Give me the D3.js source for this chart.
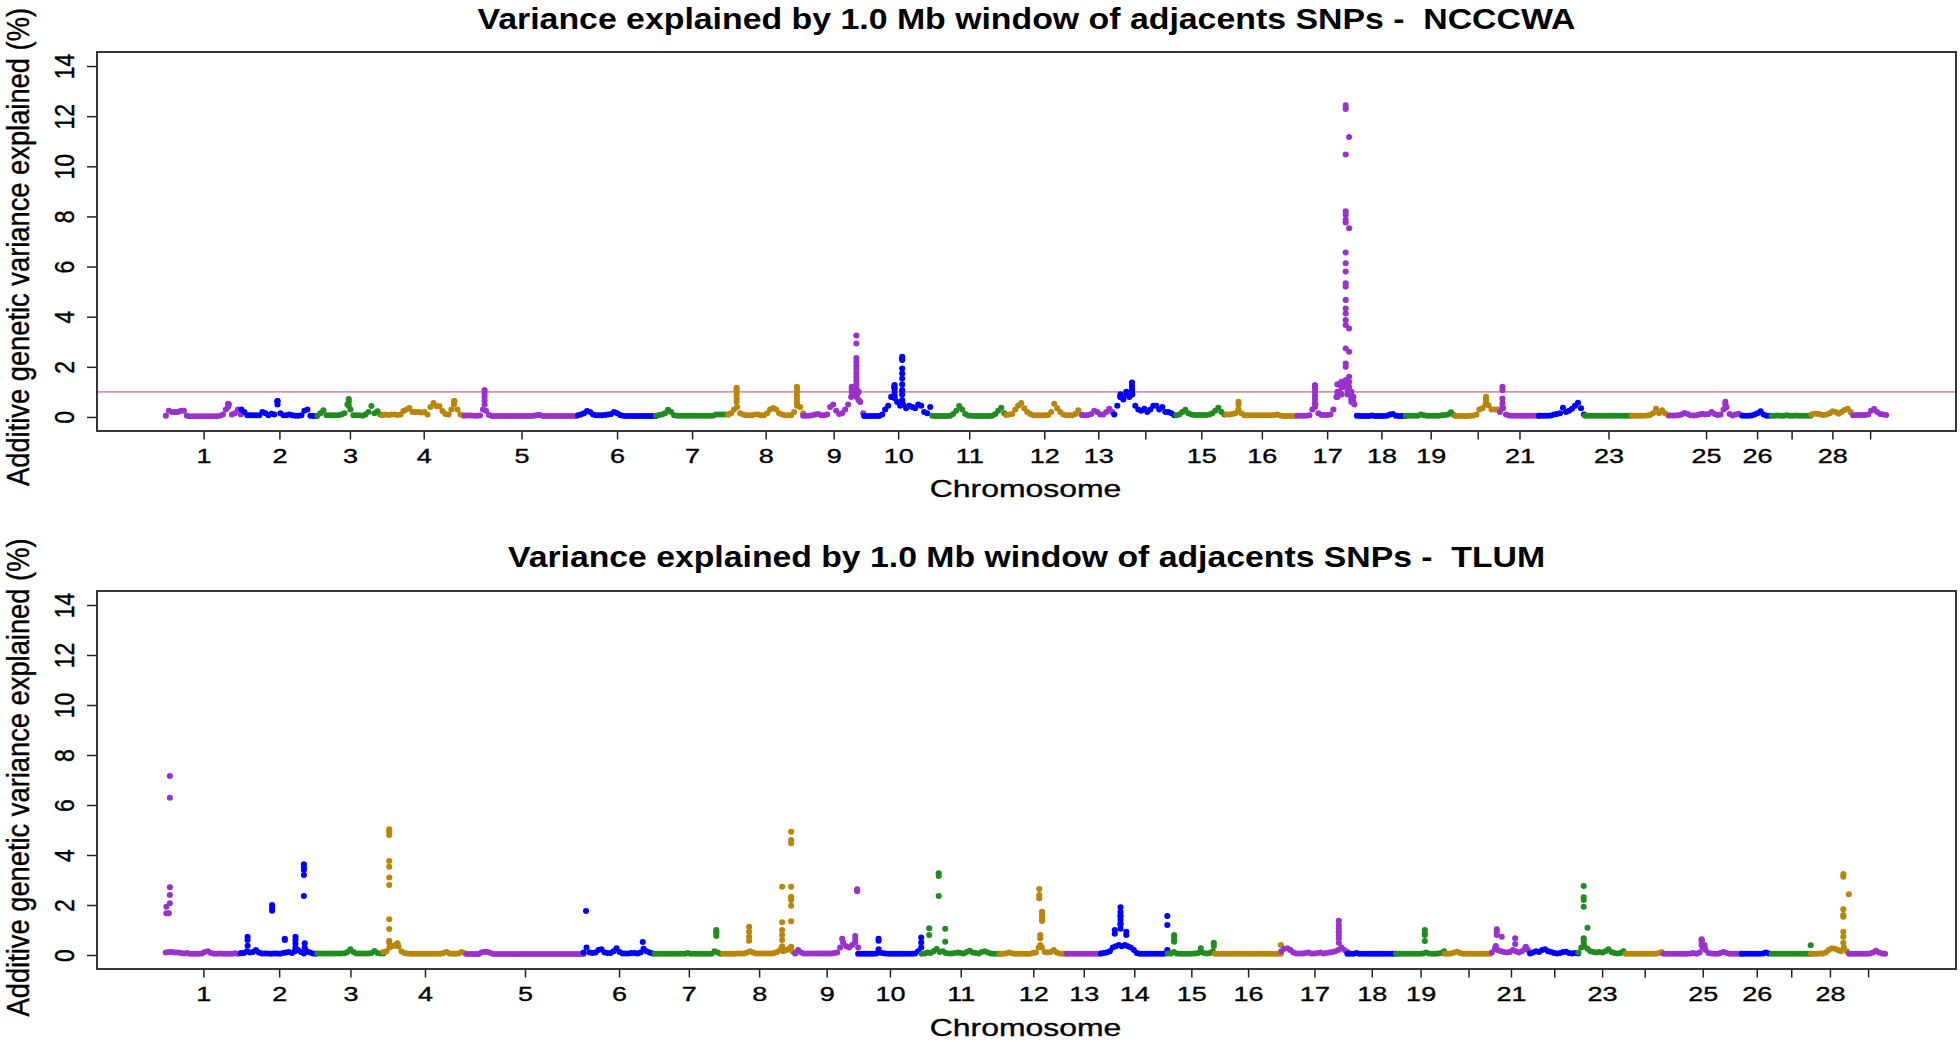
<!DOCTYPE html>
<html><head><meta charset="utf-8">
<script src="https://cdn.jsdelivr.net/npm/d3@7"></script>
<style>
html,body{margin:0;padding:0;background:#fff;}
svg{display:block;}
text{font-family:"Liberation Sans",Arial,Helvetica,sans-serif;fill:#000;}
.heavy{stroke:#000;stroke-width:0.35px;}
</style>
</head><body>
<svg id="chart" width="1960" height="1042"></svg>
<script>
// ---------------- DATA ----------------
const chromNames = ["1","2","3","4","5","6","7","8","9","10","11","12","13","14","15","16","17","18","19","20","21","22","23","24","25","26","27","28","29"];
const chromColors = ["#9932CC","#0000FF","#228B22","#B8860B"];
const windowStep = 3; // Mb between consecutive 1.0 Mb windows in the baseline series

// chromosome extents (Mb) as plotted in each panel
const chromLenNCCCWA = [75.5,76,65,82.5,113,78,72,75,61,68,74,76,32,62,50,71,59.5,49,49.5,44.5,39,46,47,37.5,73,29,40,41.5,34];
const chromLenTLUM   = [75,76.5,66,83,117,71,68.5,72,63,63.5,78,67,34,67,47,66.5,66,48.7,49,46.7,38.2,48.3,47.4,37.7,78.3,29.8,39.1,38.2,38.1];

// % additive genetic variance per window, consecutive windows along each chromosome
const baseNCCCWA = [
 [.05,.25,.2,.2,.2,.25,.25,.05,.03,.03,.03,.03,.03,.03,.03,.03,.03,.03,.05,.1,.3,.5,.1,.15,.3,.1],
 [.3,.2,.07,.07,.07,.07,.07,.2,.15,.07,.13,.1,.63,.15,.07,.07,.1,.07,.05,.05,.07,.25,.3,.05,.04,.04],
 [.05,.15,.27,.07,.07,.07,.07,.07,.1,.15,.5,.3,.07,.07,.07,.05,.1,.2,.44,.15,.23,.1],
 [.07,.1,.08,.1,.1,.08,.1,.24,.3,.36,.2,.2,.2,.18,.2,.1,.4,.56,.43,.43,.24,.12,.1,.3,.63,.3,.1,.05],
 [.06,.06,.06,.05,.05,.06,.3,.25,.08,.04,.04,.04,.04,.04,.04,.04,.04,.04,.04,.04,.04,.04,.04,.05,.08,.08,.04,.04,.04,.04,.04,.04,.04,.04,.04,.04,.04,.04],
 [.07,.1,.15,.24,.2,.1,.07,.07,.07,.08,.1,.12,.2,.15,.08,.05,.04,.04,.04,.04,.04,.04,.04,.04,.04,.04,.04],
 [.05,.08,.1,.15,.29,.2,.07,.05,.05,.05,.05,.05,.05,.05,.05,.05,.05,.05,.05,.05,.1,.1,.1,.1,.1],
 [.1,.15,.3,.4,.15,.1,.07,.07,.07,.1,.1,.07,.07,.15,.3,.36,.3,.15,.1,.07,.07,.07,.2,.45,.4,.15],
 [.05,.05,.05,.07,.1,.12,.07,.07,.1,.4,.5,.25,.12,.15,.3,.5,.8,.9,.9,.6,.15],
 [.04,.04,.04,.04,.04,.04,.1,.3,.45,.8,1.2,.6,.45,.5,.35,.45,.4,.35,.5,.45,.2,.15,.4],
 [.05,.04,.04,.04,.04,.04,.05,.12,.25,.44,.3,.12,.06,.05,.04,.04,.04,.04,.04,.04,.05,.12,.25,.37,.15],
 [.08,.1,.12,.3,.45,.56,.35,.2,.12,.07,.07,.07,.07,.07,.08,.2,.53,.35,.2,.1,.07,.07,.07,.12,.27,.1],
 [.07,.07,.08,.12,.25,.2,.1,.1,.2,.33,.2],
 [.1,.45,.8,.7,.9,.8,.9,.45,.3,.25,.33,.2,.3,.45,.45,.3,.4,.2,.2,.15,.07],
 [.07,.1,.2,.29,.15,.1,.08,.08,.08,.08,.08,.1,.15,.25,.37,.2,.1],
 [.1,.1,.12,.15,.3,.15,.07,.07,.07,.07,.07,.07,.07,.07,.07,.07,.08,.1,.06,.04,.04,.04,.04,.04],
 [.05,.05,.05,.05,.07,.3,.5,.15,.08,.08,.08,.1,.3,.8,1.0,1.2,1.3,1.1,.7,.5],
 [.05,.04,.04,.04,.04,.06,.04,.04,.04,.04,.05,.1,.12,.05,.04,.04,.04],
 [.05,.05,.05,.05,.05,.1,.07,.05,.05,.05,.05,.05,.07,.08,.1,.19,.08],
 [.04,.04,.04,.04,.04,.05,.06,.1,.3,.35,.5,.47,.3,.3,.3],
 [.2,.35,.1,.06,.05,.05,.05,.05,.05,.05,.05,.05,.05,.05],
 [.05,.05,.05,.05,.06,.1,.12,.15,.37,.2,.25,.33,.45,.57,.35,.1],
 [.05,.05,.05,.05,.05,.05,.05,.05,.05,.05,.05,.05,.05,.05,.05,.05],
 [.05,.05,.05,.05,.05,.06,.08,.15,.33,.15,.27,.15,.06],
 [.06,.06,.06,.07,.1,.16,.12,.07,.06,.07,.1,.13,.1,.12,.2,.12,.08,.1,.3,.4,.12,.06,.1,.13,.07],
 [.05,.05,.05,.06,.1,.15,.23,.1,.05,.05],
 [.05,.05,.06,.05,.05,.07,.05,.05,.06,.05,.05,.05,.05,.05],
 [.1,.13,.13,.1,.08,.1,.15,.23,.2,.13,.2,.28,.33,.2],
 [.07,.08,.08,.08,.08,.1,.25,.32,.2,.12,.1,.08]
];
const baseTLUM = [
 [.1,.12,.12,.1,.1,.08,.06,.08,.05,.05,.05,.05,.06,.12,.15,.08,.05,.05,.06,.05,.05,.05,.05,.07,.05,.08],
 [.07,.08,.15,.1,.12,.2,.1,.06,.06,.06,.05,.06,.06,.05,.08,.1,.12,.08,.15,.2,.12,.06,.15,.1,.06,.05],
 [.06,.06,.06,.06,.06,.06,.06,.06,.06,.07,.12,.23,.12,.06,.06,.06,.06,.06,.08,.16,.08,.06,.06],
 [.12,.15,.3,.35,.4,.35,.15,.08,.06,.05,.05,.05,.05,.05,.05,.05,.05,.05,.05,.05,.08,.12,.06,.05,.05,.06,.12,.08],
 [.04,.04,.04,.04,.04,.1,.13,.12,.08,.04,.04,.04,.04,.04,.04,.04,.04,.04,.04,.04,.04,.04,.04,.04,.04,.04,.04,.04,.04,.04,.04,.04,.04,.04,.04,.04,.04,.04,.04,.04],
 [.1,.3,.1,.08,.1,.2,.23,.1,.08,.08,.15,.27,.12,.06,.06,.06,.08,.08,.06,.1,.25,.15,.1,.06],
 [.05,.05,.05,.05,.05,.05,.05,.05,.05,.05,.05,.08,.05,.05,.05,.05,.05,.05,.05,.05,.15,.1,.05],
 [.05,.05,.05,.05,.05,.06,.06,.06,.1,.15,.1,.06,.06,.06,.06,.06,.06,.08,.12,.2,.15,.2,.25,.15,.1],
 [.06,.2,.1,.06,.06,.06,.06,.06,.06,.06,.06,.06,.06,.08,.1,.3,.5,.35,.3,.4,.5,.3],
 [.05,.05,.05,.05,.05,.05,.06,.1,.08,.06,.05,.05,.05,.05,.05,.05,.05,.05,.05,.06,.15,.3],
 [.05,.06,.1,.08,.15,.24,.12,.15,.08,.06,.06,.08,.1,.08,.06,.12,.17,.1,.08,.06,.12,.15,.1,.06,.05,.05,.05],
 [.05,.05,.06,.1,.07,.05,.05,.05,.05,.05,.05,.08,.1,.3,.3,.12,.1,.12,.2,.1,.06,.05,.05],
 [.05,.05,.05,.05,.05,.05,.05,.05,.05,.05,.05,.05],
 [.06,.08,.1,.15,.3,.35,.4,.35,.4,.35,.3,.2,.08,.05,.05,.05,.05,.05,.05,.05,.05,.05,.08],
 [.06,.06,.12,.06,.05,.05,.05,.05,.05,.06,.08,.12,.08,.06,.08,.15],
 [.05,.05,.05,.05,.05,.05,.05,.05,.05,.05,.05,.05,.05,.05,.05,.05,.05,.05,.05,.05,.05,.05,.05],
 [.15,.25,.27,.2,.1,.06,.06,.06,.08,.1,.06,.06,.08,.1,.06,.08,.1,.12,.15,.2,.3,.2,.12],
 [.05,.05,.05,.08,.05,.05,.05,.05,.05,.05,.05,.05,.05,.05,.05,.05,.05],
 [.05,.05,.05,.05,.05,.05,.05,.05,.05,.06,.1,.06,.05,.05,.06,.08,.15],
 [.05,.05,.06,.1,.13,.08,.05,.05,.05,.05,.05,.05,.05,.05,.05,.05],
 [.1,.25,.2,.15,.12,.1,.12,.2,.15,.1,.15,.25,.2],
 [.06,.1,.15,.12,.2,.23,.15,.12,.08,.06,.08,.12,.13,.08,.06,.08,.06],
 [.1,.3,.35,.25,.15,.12,.1,.12,.1,.15,.23,.12,.08,.06,.08,.15],
 [.05,.05,.05,.05,.05,.05,.05,.05,.05,.05,.05,.08,.12],
 [.05,.05,.05,.05,.05,.05,.05,.05,.05,.06,.08,.05,.1,.3,.2,.08,.06,.05,.05,.08,.12,.08,.05,.05,.05,.05,.05],
 [.05,.05,.05,.05,.05,.05,.05,.06,.1,.06],
 [.05,.05,.05,.05,.05,.05,.05,.05,.05,.05,.05,.05,.05,.05],
 [.05,.05,.05,.06,.06,.1,.2,.27,.25,.2,.15,.3,.15],
 [.05,.05,.05,.05,.05,.05,.05,.06,.1,.17,.1,.06,.05]
];

// stacked high windows: [chromosome, position within chromosome (Mb), values]
const peaksNCCCWA = [
 ["1",62.2,[0.53,0.4]],
 ["2",36.1,[0.63,0.5]],
 ["3",31.3,[0.71,0.6,0.45]],
 ["4",71.5,[0.63,0.5]],
 ["5",19.6,[1.07,0.95,0.8,0.65,0.5]],
 ["8",8.5,[1.16,1.05,0.9,0.75,0.6]],
 ["8",68.8,[1.2,1.1,1.0,0.85,0.7,0.55]],
 ["9",48.6,[1.2,1.1,1.0]],
 ["9",53.2,[3.25,2.93,2.35,2.2,2.05,1.9,1.75,1.6,1.45,1.3,1.15,1.0,0.8]],
 ["9",55.5,[1.0,0.67]],
 ["10",30.4,[1.27,1.15,1.0,0.85,0.75]],
 ["10",38,[2.4,2.33,2.27,1.93,1.73,1.53,1.3,1.07,0.9,0.67]],
 ["14",6.2,[0.9,0.8]],
 ["14",12,[1.0]],
 ["14",17.7,[1.37,1.25,1.1,1.0]],
 ["16",12.2,[0.6,0.5]],
 ["17",17.6,[1.27,1.15,1.0,0.85,0.7,0.55,0.4]],
 ["17",40,[1.3,1.0,0.8]],
 ["17",44,[1.4,1.2,0.9]],
 ["17",48.3,[12.43,12.29,10.47,8.2,8.07,7.87,7.76,6.56,6.13,5.8,5.33,5.2,4.67,4.33,4.13,3.87,3.67,2.73,2.13,2.0,1.47,1.35]],
 ["17",50,[1.45,1.3,1.1,0.9]],
 ["17",51.7,[11.17,7.53,3.53,2.6,1.6,1.4,1.2]],
 ["17",54,[1.0,0.8,0.6]],
 ["17",56,[0.8,0.6]],
 ["20",30.6,[0.8,0.7,0.6]],
 ["21",2.5,[1.2,1.07,0.73,0.55,0.4]],
 ["25",55.8,[0.6,0.5,0.37]]
];
const peaksTLUM = [
 ["1",0.5,[1.93,1.67]],
 ["1",3,[1.67]],
 ["1",4,[7.16,6.29,2.71,2.4,2.07]],
 ["2",6.7,[0.73,0.6,0.37]],
 ["2",31.2,[2.0,1.87,1.77]],
 ["2",43.9,[0.6,0.65]],
 ["2",54.6,[0.73,0.6,0.45,0.3,0.2]],
 ["2",63,[3.63,3.5,3.4,3.2,2.36]],
 ["2",63.8,[0.47,0.3]],
 ["4",5.8,[5.03,4.93,4.8,3.76,3.53,3.1,2.8,1.43,1.04,0.57,0.49]],
 ["4",14,[0.47,0.45,0.35]],
 ["6",2.5,[1.76]],
 ["6",59.2,[0.52]],
 ["7",61.7,[1.0,0.93,0.87,0.76]],
 ["8",26,[1.13,0.93,0.73,0.57]],
 ["8",59,[2.73,1.31,1.0,0.8,0.6,0.35]],
 ["8",68,[4.93,4.6,4.47,2.73,2.33,2.2,1.97,1.35,0.33]],
 ["9",47,[0.65]],
 ["9",60,[0.76,0.6]],
 ["9",62,[2.63,2.55]],
 ["10",20.4,[0.65,0.57,0.23]],
 ["10",63,[0.7,0.5]],
 ["11",7.5,[1.07,0.8]],
 ["11",17,[3.27,3.16,2.36]],
 ["11",23.5,[1.05,0.53]],
 ["12",39.5,[2.64,2.4,2.27]],
 ["12",40.5,[0.8,0.67,0.4]],
 ["12",42.3,[1.73,1.6,1.47,1.36]],
 ["14",14,[1.0,0.85]],
 ["14",19.7,[1.91,1.73,1.6,1.53,1.4,1.27,1.2,1.05]],
 ["14",25.5,[0.93,0.8]],
 ["14",66.5,[1.56,1.2,0.2]],
 ["15",6.3,[0.8,0.7,0.6,0.53]],
 ["15",33,[0.27]],
 ["15",46,[0.49,0.36]],
 ["16",66,[0.4]],
 ["17",57.4,[1.37,1.2,1.07,0.93,0.8,0.67,0.49]],
 ["19",28.7,[1.0,0.87,0.8,0.56]],
 ["21",4,[0.36]],
 ["21",4.9,[1.03,0.93,0.8]],
 ["21",9.9,[0.73]],
 ["21",23.3,[0.67,0.44]],
 ["21",34,[0.33]],
 ["23",5.3,[2.76,2.31,2.2,1.93,0.67,0.6,0.5]],
 ["23",9.1,[1.09]],
 ["25",38.1,[0.63,0.6,0.53,0.4]],
 ["25",41,[0.4,0.3]],
 ["27",39,[0.39]],
 ["28",32.5,[3.24,3.13,1.83,1.6,1.53,0.93,0.73,0.49]],
 ["28",38,[2.43]]
];

// axis annotations
const tickChromsNCCCWA = ["1","2","3","4","5","6","7","8","9","10","11","12","13","14","15","16","17","18","19","20","21","23","25","26","27","28","29"];
const labelChromsNCCCWA = ["1","2","3","4","5","6","7","8","9","10","11","12","13","15","16","17","18","19","21","23","25","26","28"];
const tickChromsTLUM = chromNames;
const labelChromsTLUM = ["1","2","3","4","5","6","7","8","9","10","11","12","13","14","15","16","17","18","19","21","23","25","26","28"];
const yTickValues = [0,2,4,6,8,10,12,14];
const thresholdNCCCWA = 1.0;
const titleNCCCWA = "Variance explained by 1.0 Mb window of adjacents SNPs -  NCCCWA";
const titleTLUM = "Variance explained by 1.0 Mb window of adjacents SNPs -  TLUM";
const xTitle = "Chromosome";
const yTitle = "Additive genetic variance explained (%)";

// ---------------- LAYOUT ----------------
const svg = d3.select("#chart");
svg.append("rect").attr("width",1960).attr("height",1042).attr("fill","#fff");

const panels = [
  {title:titleNCCCWA, lens:chromLenNCCCWA, base:baseNCCCWA, peaks:peaksNCCCWA,
   ticks:tickChromsNCCCWA, labels:labelChromsNCCCWA, threshold:thresholdNCCCWA,
   box:{l:97,r:1956,t:52,b:431}, titleY:29.3, titleW:1098, xTitleY:497.3, yTitleC:247},
  {title:titleTLUM, lens:chromLenTLUM, base:baseTLUM, peaks:peaksTLUM,
   ticks:tickChromsTLUM, labels:labelChromsTLUM, threshold:null,
   box:{l:97,r:1956,t:591,b:969}, titleY:566.7, titleW:1037, xTitleY:1035.5, yTitleC:777.5}
];

const AX = "#222";

panels.forEach(p => {
  const T = d3.sum(p.lens);
  const starts = [];
  let acc = 0;
  p.lens.forEach(l => { starts.push(acc); acc += l; });
  const x = d3.scaleLinear().domain([-0.04*T, 1.04*T]).range([p.box.l, p.box.r]);
  const y = d3.scaleLinear().domain([-0.56, 14.56]).range([p.box.b, p.box.t]);

  const g = svg.append("g");

  // title
  g.append("text").attr("x",(p.box.l+p.box.r)/2).attr("y",p.titleY)
    .attr("text-anchor","middle").attr("font-size",29).attr("font-weight","bold")
    .style("white-space","pre")
    .attr("textLength",p.titleW).attr("lengthAdjust","spacingAndGlyphs")
    .text(p.title);

  // threshold line
  if (p.threshold !== null) {
    g.append("line").attr("x1",p.box.l).attr("x2",p.box.r)
      .attr("y1",y(p.threshold)).attr("y2",y(p.threshold))
      .attr("stroke","#d9959b").attr("stroke-width",1.6);
  }

  // points
  const pts = [];
  chromNames.forEach((c, ci) => {
    p.base[ci].forEach((v, i) => pts.push({ci, pos: starts[ci] + i*windowStep, v}));
    p.peaks.filter(d => d[0] === c).forEach(d => d[2].forEach(v => pts.push({ci, pos: starts[ci] + d[1], v})));
  });
  g.append("g").selectAll("circle").data(pts).join("circle")
    .attr("cx", d => x(d.pos)).attr("cy", d => y(d.v)).attr("r", 3.05)
    .attr("fill", d => chromColors[d.ci % 4]);

  // box
  g.append("rect").attr("x",p.box.l).attr("y",p.box.t)
    .attr("width",p.box.r-p.box.l).attr("height",p.box.b-p.box.t)
    .attr("fill","none").attr("stroke",AX).attr("stroke-width",1.8);

  // y axis
  const yAxis = d3.axisLeft(y).tickValues(yTickValues).tickSize(10).tickFormat(d3.format("d"));
  const ya = g.append("g").attr("transform",`translate(${p.box.l},0)`).call(yAxis);
  ya.select(".domain").remove();
  ya.selectAll(".tick line").attr("stroke",AX).attr("stroke-width",1.5);
  ya.selectAll(".tick text")
    .attr("x",null).attr("dy",null).attr("y",null)
    .attr("font-size",23).attr("font-family",null)
    .attr("text-anchor","middle").attr("class","heavy")
    .attr("transform","translate(-23.5,0) scale(1.22,1) rotate(-90)");

  // x axis
  const mids = {};
  chromNames.forEach((c, ci) => { mids[c] = starts[ci] + p.lens[ci]/2; });
  const xAxis = d3.axisBottom(x).tickValues(p.ticks.map(c => mids[c])).tickSize(8.5)
    .tickFormat((d, i) => p.labels.includes(p.ticks[i]) ? p.ticks[i] : "");
  const xa = g.append("g").attr("transform",`translate(0,${p.box.b})`).call(xAxis);
  xa.select(".domain").remove();
  xa.selectAll(".tick line").attr("stroke",AX).attr("stroke-width",1.5);
  xa.selectAll(".tick text").attr("dy",null).attr("y",31.7)
    .attr("font-size",20).attr("font-family",null).attr("class","heavy")
    .each(function(){
      const L = this.getComputedTextLength();
      if (L > 0) { this.setAttribute("textLength", L*1.35); this.setAttribute("lengthAdjust","spacingAndGlyphs"); }
    });

  // axis titles
  const xt = g.append("text").attr("x",1025.5).attr("y",p.xTitleY).attr("class","heavy")
    .attr("text-anchor","middle").attr("font-size",24).text(xTitle);
  const xl = xt.node().getComputedTextLength();
  xt.attr("textLength", xl*1.33).attr("lengthAdjust","spacingAndGlyphs");

  g.append("text").attr("transform",`translate(29,${p.yTitleC}) scale(1.15,1) rotate(-90)`)
    .attr("text-anchor","middle").attr("font-size",27).attr("class","heavy")
    .attr("textLength",478).attr("lengthAdjust","spacingAndGlyphs")
    .text(yTitle);
});
</script>
</body></html>
